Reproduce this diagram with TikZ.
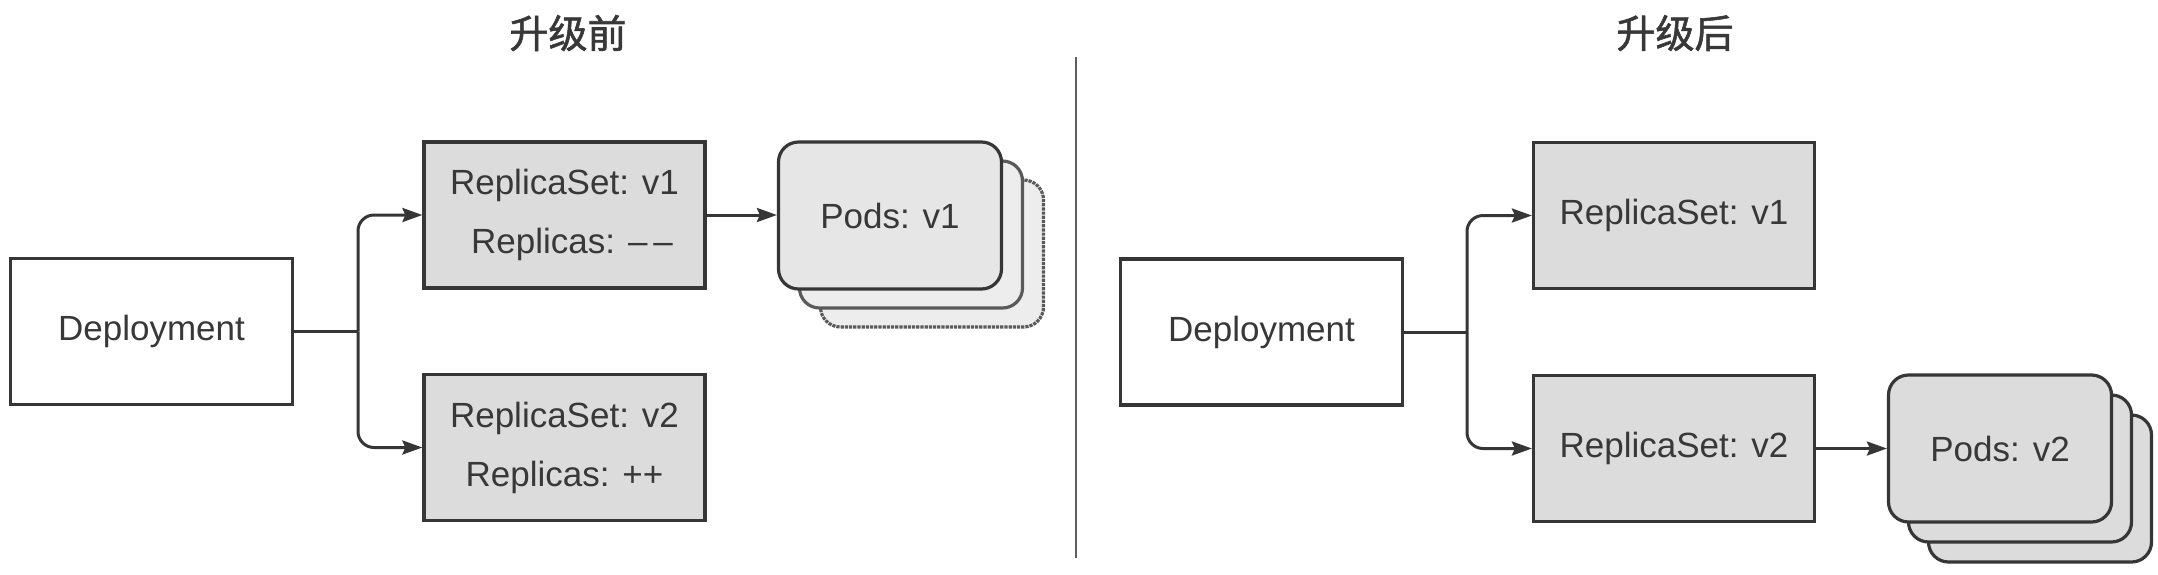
\documentclass[tikz,border=0pt]{standalone}
\usepackage{fontspec}
\setmainfont{Liberation Sans}
\newfontfamily\cjk[FakeBold=1.5]{Noto Sans CJK SC}
\usetikzlibrary{arrows.meta}
\definecolor{ink}{HTML}{363636}
\definecolor{txt}{HTML}{383838}
\definecolor{rsfill}{HTML}{DCDCDC}
\definecolor{podfillA}{HTML}{E6E6E6}
\definecolor{podback}{HTML}{EDEDED}
\definecolor{podedge}{HTML}{5A5A5A}
\begin{document}
\begin{tikzpicture}[x=1pt,y=-1pt,
  base/.style={draw=ink, line width=3.2pt, inner sep=0pt, text=txt,
    font=\fontsize{35}{59}\selectfont, align=center},
  depbox/.style={base, fill=white, minimum width=282pt, minimum height=146pt},
  rsbox/.style={base, fill=rsfill, minimum width=281pt, minimum height=146pt},
  podbox/.style={base, rounded corners=20pt, minimum width=223pt, minimum height=147pt},
  title/.style={font=\cjk\fontsize{39}{40}\selectfont, text=txt, inner sep=0pt},
  conn/.style={draw=ink, line width=3pt, rounded corners=16pt},
  arr/.style={conn, -{Stealth[length=20pt,width=14pt,inset=3pt]}}
]
\useasboundingbox (0,0) rectangle (2158,574);

% titles
\node[title] (tL) at (568,33) {升级前};
\node[title] (tR) at (1675,33) {升级后};

% divider
\coordinate (dtop) at (1076,57);
\coordinate (dbot) at (1076,558);
\draw[draw=ink!80, line width=2pt] (dtop) -- (dbot);

% ---------- before ----------
\node[depbox] (depL) at (151.5,331.5) {Deployment};
\node[rsbox] (rs1L) at (564.5,215) {ReplicaSet: v1\\\hspace*{15pt}Replicas: \textendash\,\textendash};
\node[rsbox] (rs2L) at (564.5,447.5) {ReplicaSet: v2\\Replicas: ++};

\node[podbox, fill=podback, draw=podedge, densely dotted] (p1c) at (932,253.5) {};
\node[podbox, fill=podback, draw=podedge] (p1b) at (911,234.5) {};
\node[podbox, fill=podfillA] (p1a) at (890,215.5) {Pods: v1};

\coordinate (jL) at (358,331.5);
\draw[conn] (depL.east) -- (jL);
\draw[arr] (jL) |- (rs1L.west);
\draw[arr] (jL) |- (rs2L.west);
\draw[arr] (rs1L.east) -- (p1a.west |- rs1L.east);

% ---------- after ----------
\node[depbox] (depR) at (1261.5,332) {Deployment};
\node[rsbox] (rs1R) at (1674,215.5) {ReplicaSet: v1};
\node[rsbox] (rs2R) at (1674,448.5) {ReplicaSet: v2};

\node[podbox, fill=rsfill] (p2c) at (2040,488.5) {};
\node[podbox, fill=rsfill] (p2b) at (2020,468.5) {};
\node[podbox, fill=rsfill] (p2a) at (2000,448.5) {Pods: v2};

\coordinate (jR) at (1467,332);
\draw[conn] (depR.east) -- (jR);
\draw[arr] (jR) |- (rs1R.west);
\draw[arr] (jR) |- (rs2R.west);
\draw[arr] (rs2R.east) -- (p2a.west |- rs2R.east);
\end{tikzpicture}
\end{document}
